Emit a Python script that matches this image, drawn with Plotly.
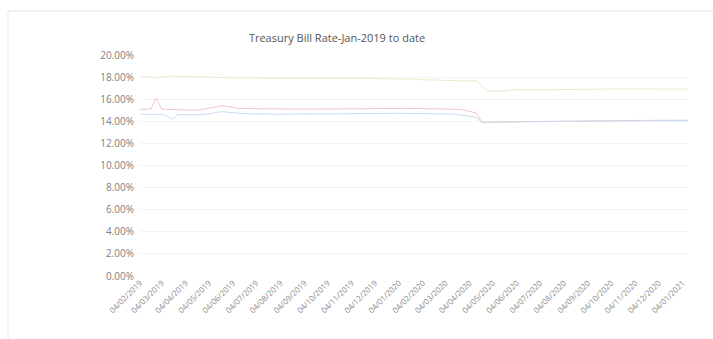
import datetime as dt
import plotly.graph_objects as go

# ---- data (weekly auctions, starting 04/02/2019) ----
start_date = "2019-02-04"
n_weeks = 102

rate_364 = [18.10, 18.08, 18.00, 17.95, 18.00, 18.08, 18.10, 18.08, 18.06, 18.05,
            18.03, 18.02, 18.00, 17.98, 17.97, 17.96, 17.95, 17.94, 17.93, 17.92,
            17.91, 17.90, 17.89, 17.88, 17.87, 17.87, 17.88, 17.88, 17.89, 17.90,
            17.90, 17.91, 17.92, 17.92, 17.93, 17.93, 17.94, 17.94, 17.95, 17.94,
            17.92, 17.90, 17.88, 17.86, 17.85, 17.84, 17.84, 17.83, 17.83, 17.82,
            17.82, 17.80, 17.78, 17.76, 17.75, 17.74, 17.74, 17.72, 17.68, 17.66,
            17.65, 17.65, 17.65, 17.20, 16.74, 16.72, 16.72, 16.73, 16.80, 16.88,
            16.86, 16.84, 16.83, 16.84, 16.85, 16.86, 16.86, 16.85, 16.84, 16.85,
            16.87, 16.88, 16.89, 16.90, 16.90, 16.91, 16.91, 16.92, 16.92, 16.92,
            16.92, 16.91, 16.91, 16.91, 16.92, 16.92, 16.92, 16.92, 16.92, 16.91,
            16.91, 16.91]

rate_182 = [15.08, 15.08, 15.10, 16.08, 15.10, 15.08, 15.08, 15.06, 15.03, 15.00,
            14.98, 15.02, 15.12, 15.22, 15.32, 15.40, 15.35, 15.25, 15.18, 15.15,
            15.14, 15.13, 15.12, 15.11, 15.10, 15.10, 15.10, 15.10, 15.09, 15.09,
            15.10, 15.10, 15.10, 15.11, 15.11, 15.11, 15.12, 15.12, 15.12, 15.12,
            15.13, 15.13, 15.14, 15.14, 15.15, 15.15, 15.16, 15.16, 15.17, 15.17,
            15.17, 15.17, 15.16, 15.16, 15.15, 15.14, 15.12, 15.10, 15.09, 15.08,
            14.98, 14.88, 14.75, 13.92, 13.90, 13.92, 13.95, 13.96, 13.97, 13.98,
            13.97, 13.96, 13.97, 13.98, 13.99, 14.00, 14.00, 14.01, 14.01, 14.02,
            14.02, 14.03, 14.03, 14.04, 14.04, 14.05, 14.05, 14.06, 14.06, 14.07,
            14.07, 14.08, 14.08, 14.08, 14.09, 14.09, 14.09, 14.10, 14.10, 14.10,
            14.10, 14.10]

rate_91 = [14.63, 14.63, 14.64, 14.63, 14.62, 14.45, 14.20, 14.60, 14.62, 14.61,
           14.60, 14.60, 14.62, 14.70, 14.80, 14.87, 14.84, 14.78, 14.73, 14.70,
           14.68, 14.66, 14.65, 14.65, 14.64, 14.64, 14.64, 14.65, 14.65, 14.65,
           14.66, 14.66, 14.66, 14.67, 14.67, 14.67, 14.68, 14.68, 14.69, 14.69,
           14.70, 14.70, 14.70, 14.71, 14.71, 14.71, 14.72, 14.72, 14.72, 14.72,
           14.71, 14.71, 14.70, 14.70, 14.69, 14.68, 14.67, 14.66, 14.64, 14.60,
           14.52, 14.45, 14.35, 13.88, 13.87, 13.90, 13.92, 13.93, 13.94, 13.95,
           13.94, 13.94, 13.95, 13.96, 13.96, 13.97, 13.97, 13.98, 13.98, 13.99,
           13.99, 14.00, 14.00, 14.01, 14.01, 14.02, 14.02, 14.03, 14.03, 14.04,
           14.04, 14.05, 14.05, 14.05, 14.06, 14.06, 14.07, 14.07, 14.07, 14.08,
           14.08, 14.08]

tick_dates = ["2019-02-04", "2019-03-04", "2019-04-04", "2019-05-04", "2019-06-04",
              "2019-07-04", "2019-08-04", "2019-09-04", "2019-10-04", "2019-11-04",
              "2019-12-04", "2020-01-04", "2020-02-04", "2020-03-04", "2020-04-04",
              "2020-05-04", "2020-06-04", "2020-07-04", "2020-08-04", "2020-09-04",
              "2020-10-04", "2020-11-04", "2020-12-04", "2021-01-04"]

title_text = "Treasury Bill Rate-Jan-2019 to date"

# ---- build ----
d0 = dt.date.fromisoformat(start_date)
dates = [d0 + dt.timedelta(days=7 * i) for i in range(n_weeks)]
tick_text = [dt.date.fromisoformat(t).strftime("%d/%m/%Y") for t in tick_dates]

fig = go.Figure()
series = [("364 Day", rate_364, "#e9ebcd"),
          ("182 Day", rate_182, "#f5c6c6"),
          ("91 Day", rate_91, "#c9dcf0")]
for name, vals, col in series:
    fig.add_trace(go.Scatter(x=dates, y=vals, mode="lines", name=name,
                             line=dict(color=col, width=1)))

W, H = 713, 339
L, R, T, B = 140, 25, 55, 63
pw, ph = W - L - R, H - T - B

def px(x):
    return (x - L) / pw

def py(y):
    return (H - B - y) / ph

fig.update_layout(
    width=W, height=H,
    margin=dict(l=L, r=R, t=T, b=B),
    paper_bgcolor="white", plot_bgcolor="white",
    showlegend=False,
    font=dict(family="Open Sans, sans-serif", color="#777"),
    title=dict(text=title_text, xref="container", x=337 / W, xanchor="center",
               yref="container", y=1 - 38 / H, yanchor="middle",
               font=dict(size=11, color="#555", family="Open Sans, sans-serif")),
    xaxis=dict(type="date", range=[dates[0], dates[-1]],
               tickvals=tick_dates, ticktext=tick_text, tickangle=-45,
               showgrid=False, zeroline=False, showline=False, ticks="",
               tickfont=dict(size=8, color="#8c8c8c")),
    yaxis=dict(range=[0, 20], dtick=2, tickformat=".2f", ticksuffix="%",
               showgrid=True, gridcolor="#f3f3f3", gridwidth=1,
               zeroline=False, showline=False, ticks="",
               ticklabelstandoff=5,
               tickfont=dict(size=10, color="#808080")),
    shapes=[
        dict(type="line", xref="paper", yref="paper",
             x0=px(8), x1=px(713), y0=py(11), y1=py(11),
             line=dict(color="#e6e6e6", width=1)),
        dict(type="line", xref="paper", yref="paper",
             x0=px(8), x1=px(8), y0=py(11), y1=py(339),
             line=dict(color="#e6e6e6", width=1)),
    ],
)

fig.write_html("out.html")
